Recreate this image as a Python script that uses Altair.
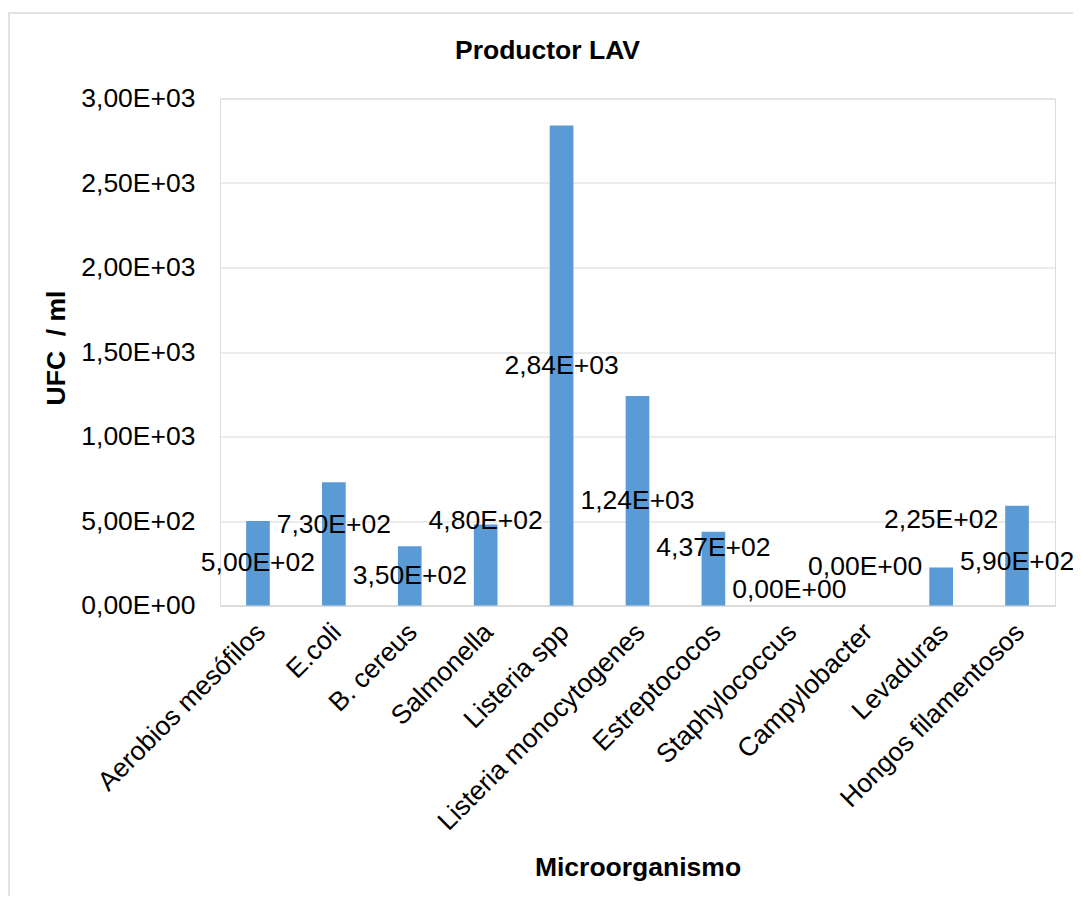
import altair as alt
import pandas as pd

# ---- data ----
categories = [
    "Aerobios mesófilos", "E.coli", "B. cereus", "Salmonella", "Listeria spp",
    "Listeria monocytogenes", "Estreptococos", "Staphylococcus", "Campylobacter",
    "Levaduras", "Hongos filamentosos",
]
values = [500, 730, 350, 480, 2840, 1240, 437, 0, 0, 225, 590]
# height (in UFC/ml) at which each data label sits in the reference
label_at = [250, 476, 175, 500, 1420, 620, 340, 92, 225, 503, 257]
tick_values = [0, 500, 1000, 1500, 2000, 2500, 3000]
tick_labels = ["0,00E+00", "5,00E+02", "1,00E+03", "1,50E+03", "2,00E+03", "2,50E+03", "3,00E+03"]

labels = [f"{v:.2E}".replace(".", ",") for v in values]
df = pd.DataFrame({"cat": categories, "val": values, "label_at": label_at, "label": labels})

FONT = "Liberation Sans"
FS = 26.5
W, H = 835, 507

label_expr = ""
for v, t in zip(tick_values, tick_labels):
    label_expr += f"datum.value == {v} ? '{t}' : "
label_expr += "''"

x_enc = alt.X(
    "cat:N", sort=categories,
    scale=alt.Scale(paddingInner=0.688, paddingOuter=0.344),
    axis=alt.Axis(
        title="Microorganismo", labelAngle=-45, labelAlign="right", labelBaseline="top",
        labelPadding=13, labelOffset=-6, ticks=False, domain=True, domainColor="#d9d9d9", domainWidth=1.5,
        labelFont=FONT, labelFontSize=FS, labelColor="black", labelLimit=500,
        titleFont=FONT, titleFontSize=FS, titleFontWeight="bold", titleColor="black",
        titleX=W / 2, titleY=269.5, titleBaseline="alphabetic", titleAlign="center",
        grid=False,
    ),
)

y_axis = alt.Axis(
    title="UFC\u00a0 / ml", values=tick_values, labelExpr=label_expr,
    ticks=False, domain=False, grid=True, gridColor="#d9d9d9", gridWidth=1.2,
    labelPadding=25, labelFont=FONT, labelFontSize=FS, labelColor="black",
    titleFont=FONT, titleFontSize=FS, titleFontWeight="bold", titleColor="black",
    titleAngle=-90, titleX=-156, titleY=249, titleBaseline="alphabetic", titleAlign="center",
)
y_scale = alt.Scale(domain=[0, 3000], nice=False)

base = alt.Chart(df)

frame = alt.Chart(pd.DataFrame({"a": [0]})).mark_rect(
    fill=None, stroke="#d9d9d9", strokeWidth=1.5
).encode(
    x=alt.value(-211), x2=alt.value(3000), y=alt.value(-85.5), y2=alt.value(3000)
)

bars = base.mark_bar(color="#5B9BD5").encode(
    x=x_enc,
    y=alt.Y("val:Q", scale=y_scale, axis=y_axis),
)

text = base.mark_text(font=FONT, fontSize=FS, color="black", baseline="middle", align="center").encode(
    x=alt.X("cat:N", sort=categories),
    y=alt.Y("label_at:Q", scale=y_scale),
    text="label:N",
)

chart = alt.layer(frame, bars, text).properties(
    width=W, height=H,
    autosize=alt.AutoSizeParams(type="none"),
    padding={"left": 212, "top": 90.5, "right": 18, "bottom": 290},
    title=alt.TitleParams(
        "Productor LAV", font=FONT, fontSize=FS, fontWeight="bold", color="black",
        anchor="middle", dx=-90, baseline="alphabetic", offset=-73,
    ),
).configure_view(stroke=None).configure(background="white")

chart.save("out.html", embed_options={"renderer": "svg", "actions": False})
